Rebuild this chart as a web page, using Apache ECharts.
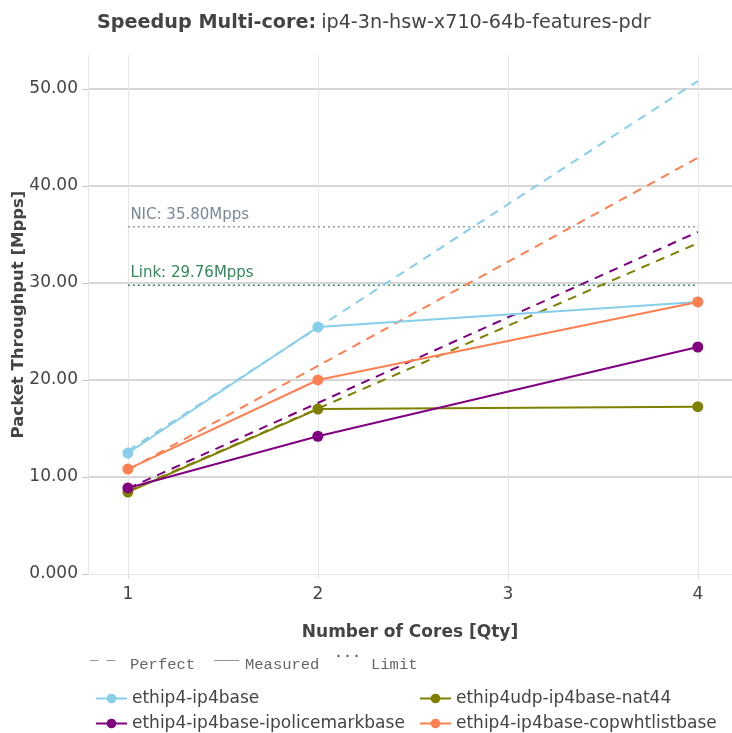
<!DOCTYPE html>
<html>
<head>
<meta charset="utf-8">
<script src="https://cdn.jsdelivr.net/npm/echarts@6/dist/echarts.min.js"></script>
<style>
  html, body { margin: 0; padding: 0; background: #fff; }
  #chart { width: 732px; height: 733px; }
</style>
</head>
<body>
<div id="chart"></div>
<script>
// values
const cores = [1, 2, 3, 4];
const measuredCores = [1, 2, 4];
const testNames = ['ethip4-ip4base', 'ethip4udp-ip4base-nat44', 'ethip4-ip4base-ipolicemarkbase', 'ethip4-ip4base-copwhtlistbase'];
const testColors = ['#87CEEB', '#808000', '#800080', '#FF7F50'];
const measured = [
    [12.47, 25.46, 28.04],
    [8.45, 17.0, 17.25],
    [8.87, 14.2, 23.4],
    [10.82, 20.0, 28.04]
];
const perfect = [
    [12.7, 25.4, 38.1, 50.8],
    [8.53, 17.05, 25.58, 34.1],
    [8.82, 17.63, 26.45, 35.26],
    [10.72, 21.45, 32.17, 42.9]
];
const limitNames = ['NIC: 35.80Mpps', 'Link: 29.76Mpps'];
const limitValues = [35.80, 29.76];
const limitColors = ['#8a9aac', '#2E8B57'];
const limitLabelColors = ['#778899', '#2E8B57'];
const yTicks = [0, 10, 20, 30, 40, 50];

document.addEventListener('DOMContentLoaded', () => {
    const myChart = echarts.init(document.getElementById('chart'));
    const font = 'DejaVu Sans';

    const series = [];
    testNames.forEach((name, i) => {
        series.push({
            name: name + ' perfect',
            type: 'line',
            data: cores.map((c, k) => [c, perfect[i][k]]),
            showSymbol: false,
            symbol: 'none',
            lineStyle: { color: testColors[i], width: 2, type: [9, 7] },
            z: 2
        });
    });
    limitValues.forEach((v, i) => {
        series.push({
            name: limitNames[i],
            type: 'line',
            data: [
                { value: [1, v], label: { show: true, formatter: limitNames[i], position: [3, -19], align: 'left',
                    color: limitLabelColors[i], fontSize: 15, fontFamily: font } },
                [4, v]
            ],
            symbol: 'circle',
            symbolSize: 1,
            itemStyle: { color: 'rgba(0,0,0,0)' },
            lineStyle: { color: limitColors[i], width: 1.5, type: [2, 3] },
            z: 1
        });
    });
    testNames.forEach((name, i) => {
        series.push({
            name: name,
            type: 'line',
            data: measuredCores.map((c, k) => [c, measured[i][k]]),
            symbol: 'circle',
            symbolSize: 11,
            itemStyle: { color: testColors[i] },
            lineStyle: { color: testColors[i], width: 2 },
            z: 3
        });
    });

    // one legend box per entry, two columns by two rows
    const legendPos = [[90, 685], [414, 685], [90, 710], [414, 710]];
    const legends = testNames.map((name, i) => ({
        left: legendPos[i][0],
        top: legendPos[i][1],
        itemWidth: 31,
        itemHeight: 12,
        data: [name],
        textStyle: { fontSize: 17, color: '#444', fontFamily: font }
    }));

    const option = {
        animation: false,
        title: {
            text: '{b|Speedup Multi-core:} {n|ip4-3n-hsw-x710-64b-features-pdr}',
            left: 92,
            top: 9,
            textStyle: {
                rich: {
                    b: { fontWeight: 'bold', fontSize: 19.2, color: '#444', fontFamily: font },
                    n: { fontWeight: 'normal', fontSize: 19.2, color: '#444', fontFamily: font }
                }
            }
        },
        grid: { left: 88, right: 0, top: 55, bottom: 159, containLabel: false, outerBoundsMode: 'none' },
        xAxis: {
            type: 'value',
            min: 0.79,
            max: 4.18,
            name: 'Number of Cores [Qty]',
            nameLocation: 'middle',
            nameGap: 50,
            nameMoveOverlap: false,
            nameTextStyle: { fontWeight: 'bold', fontSize: 17, color: '#444', fontFamily: font },
            axisLine: { show: true, lineStyle: { color: '#e6e6e6', width: 1 } },
            axisTick: { show: true, length: 5, customValues: cores, lineStyle: { color: '#dddddd' } },
            axisLabel: { customValues: cores, fontSize: 17, color: '#444', fontFamily: font, margin: 12 },
            splitLine: { show: true, lineStyle: { color: '#e6e6e6', width: 1 } }
        },
        yAxis: {
            type: 'value',
            min: 0,
            max: 53.5,
            name: 'Packet Throughput [Mpps]',
            nameLocation: 'middle',
            nameGap: 61,
            nameMoveOverlap: false,
            nameTextStyle: { fontWeight: 'bold', fontSize: 16.5, color: '#444', fontFamily: font },
            axisLine: { show: true, lineStyle: { color: '#e6e6e6', width: 1 } },
            axisTick: { show: true, length: 6, customValues: yTicks, lineStyle: { color: '#c8c8c8' } },
            axisLabel: {
                customValues: yTicks,
                fontSize: 17, color: '#444', fontFamily: font, margin: 10,
                formatter: v => (v === 0 ? '0.000' : v.toFixed(2))
            },
            splitLine: { show: true, showMinLine: false, lineStyle: { color: '#c8c8c8', width: 1.5 } }
        },
        legend: legends,
        graphic: [
            { type: 'text', left: 90, top: 648, style: { text: '_ _', fontSize: 14, fill: '#666', fontFamily: 'Liberation Mono' } },
            { type: 'text', left: 130, top: 657, style: { text: 'Perfect', fontSize: 15.5, fill: '#666', fontFamily: 'Liberation Mono' } },
            { type: 'text', left: 214, top: 648, style: { text: '___', fontSize: 14, fill: '#666', fontFamily: 'Liberation Mono' } },
            { type: 'text', left: 245, top: 657, style: { text: 'Measured', fontSize: 15.5, fill: '#666', fontFamily: 'Liberation Mono' } },
            { type: 'text', left: 334, top: 646, style: { text: '...', fontSize: 15, fill: '#444', fontFamily: 'Liberation Mono' } },
            { type: 'text', left: 371, top: 657, style: { text: 'Limit', fontSize: 15.5, fill: '#666', fontFamily: 'Liberation Mono' } }
        ],
        series: series
    };
    myChart.setOption(option);
    window.addEventListener('resize', () => myChart.resize());
});
</script>
</body>
</html>
